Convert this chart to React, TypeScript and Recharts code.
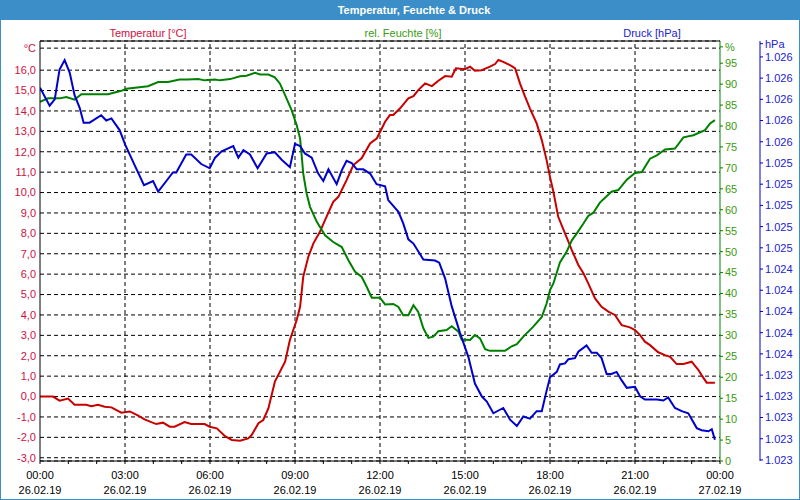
import React from "react";
import { LineChart, Line, XAxis, YAxis, CartesianGrid, ReferenceLine } from "recharts";

// ---- data (hours since 26.02.19 00:00) ----
const tempHours = [0, 0.46, 0.69, 0.99, 1.22, 1.63, 1.81, 2.05, 2.28, 2.52, 2.87, 3.17, 3.45, 3.69, 4.1, 4.34, 4.58, 4.75, 5.1, 5.34, 5.81, 5.99, 6.24, 6.53, 6.77, 7.06, 7.35, 7.47, 7.71, 7.88, 8.06, 8.29, 8.65, 8.82, 9.06, 9.18, 9.29, 9.47, 9.65, 9.88, 10.06, 10.35, 10.53, 10.82, 11.06, 11.35, 11.65, 11.89, 12.18, 12.35, 12.47, 12.71, 13.0, 13.18, 13.35, 13.59, 13.83, 14.06, 14.3, 14.53, 14.68, 15.0, 15.18, 15.35, 15.59, 15.88, 16.06, 16.18, 16.35, 16.65, 16.77, 16.94, 17.12, 17.29, 17.53, 17.71, 17.88, 18.0, 18.12, 18.29, 18.53, 18.77, 19.0, 19.18, 19.35, 19.59, 19.82, 20.06, 20.29, 20.53, 20.82, 21.0, 21.18, 21.35, 21.53, 21.82, 22.06, 22.24, 22.47, 22.71, 23.0, 23.24, 23.35, 23.53, 23.82];
const tempValues = [0.0, 0.0, -0.2, -0.1, -0.4, -0.4, -0.47, -0.4, -0.5, -0.53, -0.79, -0.73, -0.92, -1.12, -1.35, -1.28, -1.48, -1.48, -1.25, -1.35, -1.35, -1.48, -1.56, -1.94, -2.13, -2.17, -2.05, -1.89, -1.31, -1.15, -0.58, 0.73, 1.71, 2.77, 3.75, 4.4, 5.87, 6.85, 7.51, 8.08, 8.65, 9.55, 9.79, 10.61, 11.35, 11.68, 12.41, 12.66, 13.47, 13.8, 13.8, 14.13, 14.62, 14.73, 15.02, 15.35, 15.22, 15.48, 15.71, 15.68, 16.09, 16.05, 16.17, 15.97, 16.0, 16.17, 16.3, 16.5, 16.41, 16.2, 16.09, 15.35, 14.7, 14.13, 13.39, 12.57, 11.59, 10.77, 10.04, 8.81, 8.0, 7.18, 6.45, 6.04, 5.55, 4.81, 4.4, 4.16, 4.0, 3.5, 3.39, 3.26, 3.01, 2.69, 2.52, 2.17, 2.03, 1.95, 1.59, 1.6, 1.71, 1.3, 1.05, 0.68, 0.68];

const humHours = [0, 0.28, 0.69, 0.93, 1.22, 1.46, 2.4, 2.87, 3.05, 3.81, 4.17, 4.52, 4.93, 5.22, 5.58, 5.81, 6.17, 6.35, 6.71, 7.06, 7.29, 7.59, 7.77, 8.06, 8.29, 8.47, 8.7, 8.88, 9.06, 9.18, 9.23, 9.29, 9.41, 9.53, 9.77, 10.06, 10.35, 10.65, 10.88, 11.12, 11.35, 11.53, 11.71, 12.0, 12.18, 12.47, 12.65, 12.82, 13.0, 13.18, 13.35, 13.53, 13.71, 13.88, 14.06, 14.35, 14.53, 14.77, 14.88, 15.18, 15.35, 15.53, 15.71, 15.88, 16.41, 16.65, 16.83, 17.06, 17.41, 17.71, 17.88, 18.0, 18.12, 18.35, 18.59, 18.77, 18.94, 19.18, 19.35, 19.53, 19.76, 20.17, 20.41, 20.71, 21.0, 21.24, 21.53, 21.77, 22.06, 22.41, 22.71, 23.06, 23.47, 23.65, 23.82];
const humValues = [85.8, 86.6, 86.6, 86.9, 86.3, 87.6, 87.6, 88.4, 88.9, 89.5, 90.5, 90.5, 91.1, 91.1, 91.2, 90.9, 91.1, 90.9, 91.2, 91.9, 92.0, 92.7, 92.3, 92.3, 91.6, 90.1, 86.6, 83.8, 80.2, 77.0, 73.4, 68.7, 63.9, 60.7, 57.1, 53.9, 52.3, 51.1, 48.0, 45.2, 44.0, 41.6, 39.0, 39.0, 37.4, 37.5, 36.8, 34.8, 34.8, 37.2, 35.6, 31.7, 29.4, 29.7, 31.0, 31.3, 32.2, 30.9, 29.0, 28.9, 30.1, 29.3, 26.7, 26.3, 26.3, 27.4, 27.9, 29.7, 32.1, 34.4, 37.6, 40.8, 42.4, 47.4, 50.0, 52.7, 54.3, 56.7, 58.5, 59.3, 61.7, 64.3, 64.7, 67.2, 68.8, 69.0, 72.2, 73.0, 74.4, 74.6, 77.3, 77.8, 79.0, 80.6, 81.4];

const presHours = [0, 0.34, 0.52, 0.69, 0.87, 1.05, 1.22, 1.4, 1.54, 1.75, 2.16, 2.34, 2.52, 2.81, 3.01, 3.34, 3.67, 3.99, 4.17, 4.46, 4.69, 4.81, 5.16, 5.34, 5.69, 5.99, 6.18, 6.41, 6.82, 7.0, 7.18, 7.41, 7.68, 8.0, 8.29, 8.53, 8.82, 9.0, 9.18, 9.35, 9.59, 9.82, 10.0, 10.18, 10.47, 10.65, 10.82, 11.0, 11.18, 11.41, 11.65, 11.88, 12.18, 12.29, 12.65, 12.82, 13.0, 13.18, 13.53, 13.94, 14.09, 14.3, 14.53, 14.82, 15.12, 15.35, 15.59, 15.77, 16.0, 16.35, 16.59, 16.83, 17.06, 17.29, 17.53, 17.71, 17.86, 18.0, 18.24, 18.35, 18.53, 18.65, 18.88, 19.0, 19.29, 19.47, 19.65, 19.82, 20.0, 20.17, 20.35, 20.53, 20.71, 21.0, 21.18, 21.35, 21.77, 22.0, 22.17, 22.41, 22.65, 22.88, 23.18, 23.35, 23.59, 23.71, 23.82];
const presValues = [1026.11, 1025.94, 1026.0, 1026.28, 1026.37, 1026.25, 1026.04, 1025.92, 1025.78, 1025.78, 1025.85, 1025.8, 1025.82, 1025.71, 1025.57, 1025.38, 1025.19, 1025.23, 1025.13, 1025.23, 1025.31, 1025.31, 1025.48, 1025.48, 1025.39, 1025.35, 1025.45, 1025.51, 1025.56, 1025.45, 1025.52, 1025.48, 1025.35, 1025.49, 1025.5, 1025.43, 1025.36, 1025.58, 1025.56, 1025.49, 1025.45, 1025.3, 1025.23, 1025.34, 1025.2, 1025.33, 1025.42, 1025.4, 1025.34, 1025.34, 1025.3, 1025.2, 1025.18, 1025.05, 1024.94, 1024.83, 1024.68, 1024.64, 1024.49, 1024.48, 1024.46, 1024.31, 1024.05, 1023.8, 1023.57, 1023.32, 1023.2, 1023.15, 1023.04, 1023.09, 1022.98, 1022.92, 1023.01, 1022.99, 1023.06, 1023.06, 1023.23, 1023.38, 1023.43, 1023.5, 1023.51, 1023.55, 1023.56, 1023.62, 1023.68, 1023.61, 1023.61, 1023.56, 1023.41, 1023.41, 1023.43, 1023.35, 1023.28, 1023.29, 1023.2, 1023.17, 1023.17, 1023.16, 1023.19, 1023.09, 1023.06, 1023.04, 1022.9, 1022.88, 1022.87, 1022.89, 1022.79];

// ---- ticks & labels ----
const hourTicks = [0, 1, 2, 3, 4, 5, 6, 7, 8, 9, 10, 11, 12, 13, 14, 15, 16, 17, 18, 19, 20, 21, 22, 23, 24];
const labelHours = [0, 3, 6, 9, 12, 15, 18, 21, 24];
const timeLabels = ["00:00", "03:00", "06:00", "09:00", "12:00", "15:00", "18:00", "21:00", "00:00"];
const dateLabels = ["26.02.19", "26.02.19", "26.02.19", "26.02.19", "26.02.19", "26.02.19", "26.02.19", "26.02.19", "27.02.19"];
const gridHours = [3, 6, 9, 12, 15, 18, 21];

const TEMP_UNIT_TICK = 17.08;
const tempTicks = [-3, -2, -1, 0, 1, 2, 3, 4, 5, 6, 7, 8, 9, 10, 11, 12, 13, 14, 15, 16, TEMP_UNIT_TICK];
const tempDomain = [-3.16, 17.43];

const HUM_UNIT_TICK = 98.9;
const humTicks = [0, 5, 10, 15, 20, 25, 30, 35, 40, 45, 50, 55, 60, 65, 70, 75, 80, 85, 90, 95, HUM_UNIT_TICK];
const humDomain = [0, 100.3];

const PRES_UNIT_TICK = 1026.525;
const presTicks = [1022.6, 1022.8, 1023.0, 1023.2, 1023.4, 1023.6, 1023.8, 1024.0, 1024.2, 1024.4, 1024.6, 1024.8, 1025.0, 1025.2, 1025.4, 1025.6, 1025.8, 1026.0, 1026.2, 1026.4, PRES_UNIT_TICK];
const presDomain = [1022.59, 1026.55];

const tempData = tempHours.map((t, i) => ({ t, v: tempValues[i] }));
const humData = humHours.map((t, i) => ({ t, v: humValues[i] }));
const presData = presHours.map((t, i) => ({ t, v: presValues[i] }));

const BLUE_FRAME = "#3c8ec8";
const RED_TEXT = "#d01040";
const GREEN_TEXT = "#3a9a10";
const BLUE_TEXT = "#2222d0";
const RED_LINE = "#c80000";
const GREEN_LINE = "#008000";
const BLUE_LINE = "#0000cc";

const FONT = "'Liberation Sans', Arial, sans-serif";

const XTick = (props: any) => {
  const { x, y, payload } = props;
  const i = labelHours.indexOf(payload.value);
  if (i < 0) return <g />;
  return (
    <g>
      <text x={x} y={y + 13} textAnchor="middle" fill="#000" fontSize={11} fontFamily={FONT}>
        {timeLabels[i]}
      </text>
      <text x={x} y={y + 28} textAnchor="middle" fill="#000" fontSize={11} fontFamily={FONT}>
        {dateLabels[i]}
      </text>
    </g>
  );
};

const fmtTemp = (v: number) => (v === TEMP_UNIT_TICK ? "°C" : v.toFixed(1).replace(".", ","));
const fmtHum = (v: number) => (v === HUM_UNIT_TICK ? "%" : String(v));
const fmtPres = (v: number) => (v === PRES_UNIT_TICK ? "hPa" : (v / 1000).toFixed(3));

const label = (text: string, cx: number, color: string) => (
  <div
    style={{
      position: "absolute",
      left: cx,
      top: 25,
      transform: "translateX(-50%)",
      color,
      fontSize: 11,
      fontFamily: FONT,
      whiteSpace: "nowrap",
      lineHeight: "14px",
    }}
  >
    {text}
  </div>
);

export default function App() {
  return (
    <div
      style={{
        position: "absolute",
        left: 0,
        top: 0,
        width: 800,
        height: 500,
        background: "#fff",
        boxSizing: "border-box",
        border: `1px solid ${BLUE_FRAME}`,
        fontFamily: FONT,
        overflow: "hidden",
      }}
    >
      <div style={{ position: "absolute", left: -1, top: -1, width: 800, height: 500 }}>
        <LineChart width={800} height={500} margin={{ top: 41, right: 0, bottom: 0, left: 0 }}>
          <CartesianGrid yAxisId="temp" vertical={false} stroke="#000" strokeDasharray="4 3" />
          <XAxis
            dataKey="t"
            type="number"
            domain={[0, 24]}
            ticks={hourTicks}
            interval={0}
            height={39}
            tickSize={3}
            tickMargin={2}
            axisLine={{ stroke: "#000", strokeWidth: 1 }}
            tickLine={{ stroke: "#000" }}
            tick={<XTick />}
            allowDataOverflow
          />
          <YAxis
            yAxisId="temp"
            orientation="left"
            width={40}
            type="number"
            domain={tempDomain}
            ticks={tempTicks}
            interval={0}
            allowDataOverflow
            tickFormatter={fmtTemp}
            tickSize={0}
            tickMargin={4}
            tickLine={false}
            axisLine={{ stroke: "#000" }}
            tick={{ fill: RED_TEXT, fontSize: 11, fontFamily: FONT }}
          />
          <YAxis
            yAxisId="hum"
            orientation="right"
            width={40}
            type="number"
            domain={humDomain}
            ticks={humTicks}
            interval={0}
            allowDataOverflow
            tickFormatter={fmtHum}
            tickSize={3}
            tickMargin={2}
            tickLine={{ stroke: GREEN_LINE }}
            axisLine={{ stroke: GREEN_LINE }}
            tick={{ fill: GREEN_TEXT, fontSize: 11, fontFamily: FONT, textAnchor: "start" }}
          />
          <YAxis
            yAxisId="pres"
            orientation="right"
            width={40}
            type="number"
            domain={presDomain}
            ticks={presTicks}
            interval={0}
            allowDataOverflow
            tickFormatter={fmtPres}
            tickSize={3}
            tickMargin={2}
            tickLine={{ stroke: BLUE_LINE }}
            axisLine={{ stroke: BLUE_LINE }}
            tick={{ fill: BLUE_TEXT, fontSize: 11, fontFamily: FONT, textAnchor: "start" }}
          />
          {gridHours.map((h) => (
            <ReferenceLine key={h} x={h} yAxisId="temp" stroke="#000" strokeDasharray="4 3" />
          ))}
          <ReferenceLine y={tempDomain[1]} yAxisId="temp" stroke="#000" />
          <Line
            yAxisId="temp"
            data={tempData}
            dataKey="v"
            type="linear"
            stroke={RED_LINE}
            strokeWidth={2}
            dot={false}
            activeDot={false}
            isAnimationActive={false}
          />
          <Line
            yAxisId="hum"
            data={humData}
            dataKey="v"
            type="linear"
            stroke={GREEN_LINE}
            strokeWidth={2}
            dot={false}
            activeDot={false}
            isAnimationActive={false}
          />
          <Line
            yAxisId="pres"
            data={presData}
            dataKey="v"
            type="linear"
            stroke={BLUE_LINE}
            strokeWidth={2}
            dot={false}
            activeDot={false}
            isAnimationActive={false}
          />
        </LineChart>
      </div>
      <div
        style={{
          position: "absolute",
          left: -1,
          top: -1,
          width: 800,
          height: 20,
          background: BLUE_FRAME,
        }}
      >
        <div
          style={{
            position: "absolute",
            left: 414,
            top: 0,
            transform: "translateX(-50%)",
            color: "#fff",
            fontWeight: "bold",
            fontSize: 11,
            lineHeight: "20px",
            fontFamily: FONT,
            whiteSpace: "nowrap",
          }}
        >
          Temperatur, Feuchte &amp; Druck
        </div>
      </div>
      {label("Temperatur [°C]", 147, RED_TEXT)}
      {label("rel. Feuchte [%]", 402, GREEN_TEXT)}
      {label("Druck [hPa]", 651, BLUE_TEXT)}
    </div>
  );
}
